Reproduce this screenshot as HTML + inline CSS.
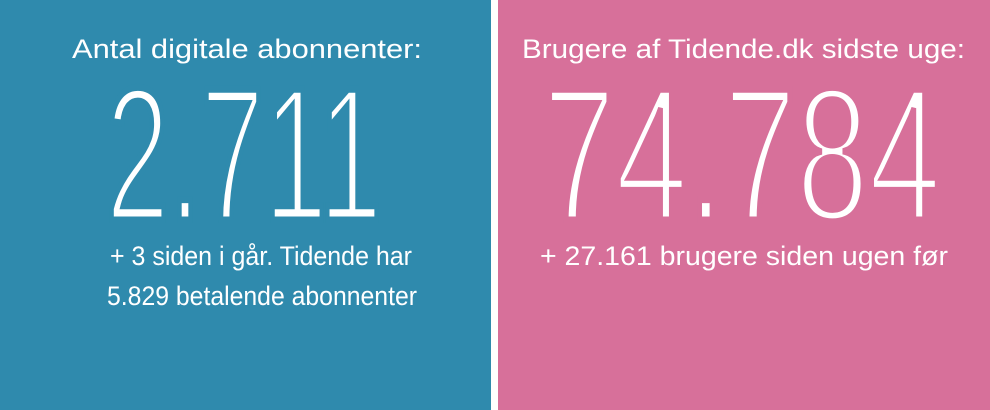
<!DOCTYPE html>
<html><head><meta charset="utf-8"><style>
html,body{margin:0;padding:0;background:#fff}
svg{display:block}
text{font-family:"Liberation Sans",sans-serif;fill:#fff}
</style></head><body>
<svg width="990" height="410" viewBox="0 0 990 410" xmlns="http://www.w3.org/2000/svg">
<rect x="0" y="0" width="491" height="410" fill="#2F8AAD"/>
<rect x="498" y="0" width="492" height="410" fill="#D7709A"/>
<text x="72" y="58" font-size="27" textLength="350" lengthAdjust="spacingAndGlyphs">Antal digitale abonnenter:</text>
<text x="106" y="220" font-size="190" stroke="#2F8AAD" stroke-width="7" textLength="276" lengthAdjust="spacingAndGlyphs">2.711</text>
<text x="110" y="265" font-size="27" textLength="302" lengthAdjust="spacingAndGlyphs">+ 3 siden i går. Tidende har</text>
<text x="107" y="305" font-size="27" textLength="310" lengthAdjust="spacingAndGlyphs">5.829 betalende abonnenter</text>
<text x="522" y="58" font-size="27" textLength="443" lengthAdjust="spacingAndGlyphs">Brugere af Tidende.dk sidste uge:</text>
<text x="543" y="220" font-size="190" stroke="#D7709A" stroke-width="7" textLength="398" lengthAdjust="spacingAndGlyphs">74.784</text>
<text x="540" y="265" font-size="27" textLength="408" lengthAdjust="spacingAndGlyphs">+ 27.161 brugere siden ugen før</text>
</svg>
</body></html>
